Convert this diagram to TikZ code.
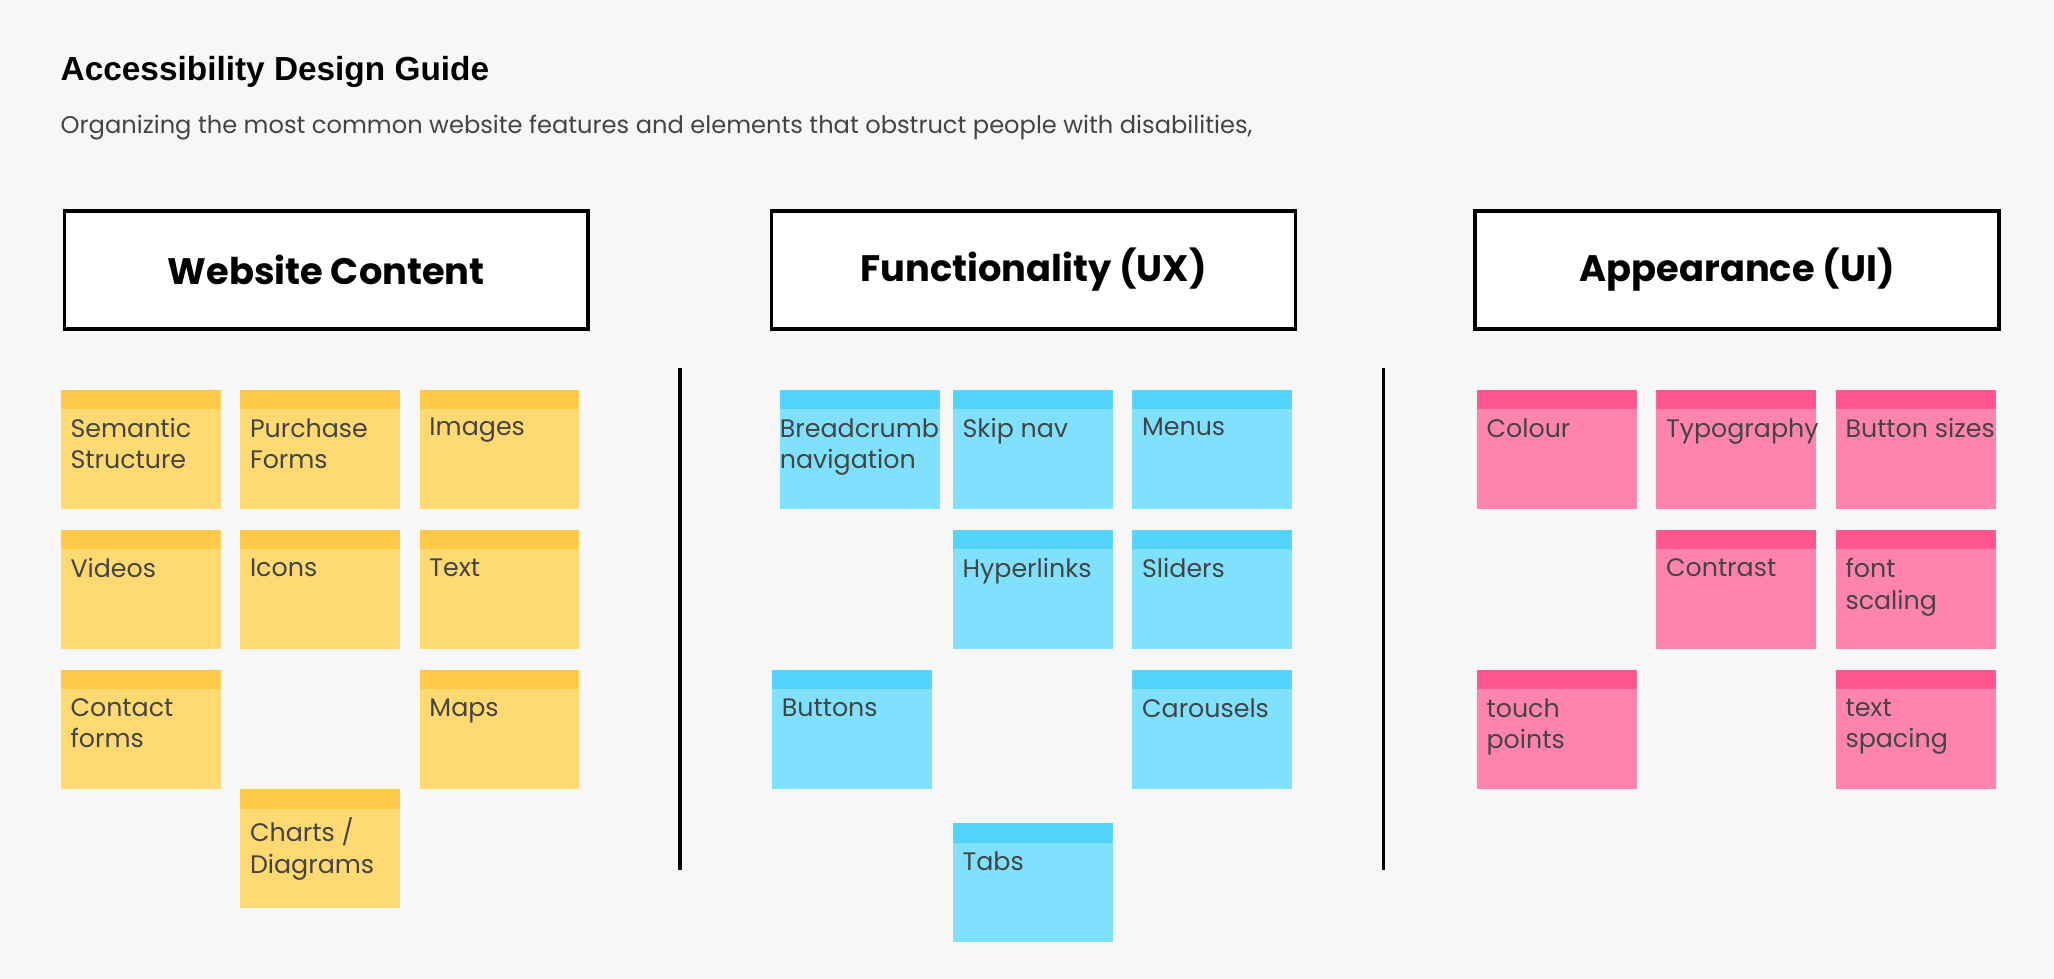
\documentclass[tikz,border=0pt]{standalone}
\usepackage{fontspec}
\setmainfont{Poppins}
\newfontfamily\titlefont{Liberation Sans}
\usetikzlibrary{positioning}
\definecolor{bgcol}{HTML}{F7F7F7}
\definecolor{ybody}{HTML}{FFD971}
\definecolor{yhead}{HTML}{FFC94A}
\definecolor{bbody}{HTML}{7FE1FD}
\definecolor{bhead}{HTML}{52D4FB}
\definecolor{pbody}{HTML}{FF84AD}
\definecolor{phead}{HTML}{FF5591}
\definecolor{notetext}{HTML}{444444}

\begin{document}
\begin{tikzpicture}[x=0.02cm,y=-0.02cm]
  \tikzset{
    sticky/.style={rectangle,anchor=north west,minimum width=2.44cm,minimum height=1.82cm,inner sep=0pt},
    yellow/.style={sticky,fill=ybody,path picture={\fill[yhead] (path picture bounding box.north west) rectangle ([yshift=-0.3cm]path picture bounding box.north east);}},
    blue/.style={sticky,fill=bbody,path picture={\fill[bhead] (path picture bounding box.north west) rectangle ([yshift=-0.3cm]path picture bounding box.north east);}},
    pink/.style={sticky,fill=pbody,path picture={\fill[phead] (path picture bounding box.north west) rectangle ([yshift=-0.3cm]path picture bounding box.north east);}},
    note/.style={anchor=north west,align=left,inner sep=0pt,text=notetext,font=\fontsize{11}{13.6}\selectfont,xshift=0.15cm,yshift=-0.44cm},
    header/.style={rectangle,draw=black,line width=1.5pt,fill=white,minimum width=8cm,minimum height=1.8cm,font=\fontsize{16}{18}\selectfont\bfseries},
    divider/.style={line width=1.5pt}
  }
  \fill[bgcol] (0,0) rectangle (1568,747);
  \useasboundingbox (0,0) rectangle (1568,747);

  % title
  \node[anchor=west,inner sep=0pt,font=\titlefont\fontsize{14.5}{16}\selectfont\bfseries] (title) at (46,55) {Accessibility Design Guide};
  \node[anchor=west,inner sep=0pt,text=notetext,font=\fontsize{10.5}{12}\selectfont] (subtitle) at (46,97) {Organizing the most common website features and elements that obstruct people with disabilities,};

  % column headers
  \node[header] (content) at (249,206) {Website Content};
  \node[header] (ux) at (789,206) {Functionality (UX)};
  \node[header] (ui) at (1326,206) {Appearance (UI)};

  % dividers
  \coordinate (d1a) at (519,281); \coordinate (d1b) at (519,664);
  \coordinate (d2a) at (1056,281); \coordinate (d2b) at (1056,664);
  \draw[divider] (d1a) -- (d1b);
  \draw[divider] (d2a) -- (d2b);

  % website content
  \node[yellow] (semantic) at (46,297) {};  \node[note] at (semantic.north west) {Semantic\\Structure};
  \node[yellow] (purchase) at (183,297) {}; \node[note] at (purchase.north west) {Purchase\\Forms};
  \node[yellow] (images) at (320,297) {};   \node[note] at (images.north west) {Images};
  \node[yellow] (videos) at (46,404) {};    \node[note] at (videos.north west) {Videos};
  \node[yellow] (icons) at (183,404) {};    \node[note] at (icons.north west) {Icons};
  \node[yellow] (text) at (320,404) {};     \node[note] at (text.north west) {Text};
  \node[yellow] (contact) at (46,511) {};   \node[note] at (contact.north west) {Contact\\forms};
  \node[yellow] (maps) at (320,511) {};     \node[note] at (maps.north west) {Maps};
  \node[yellow] (charts) at (183,602) {};   \node[note] at (charts.north west) {Charts /\\Diagrams};

  % functionality
  \node[blue] (breadcrumb) at (595,297) {}; \node[note,xshift=-0.15cm] at (breadcrumb.north west) {Breadcrumb\\navigation};
  \node[blue] (skipnav) at (727,297) {};    \node[note] at (skipnav.north west) {Skip nav};
  \node[blue] (menus) at (864,297) {};      \node[note] at (menus.north west) {Menus};
  \node[blue] (hyperlinks) at (727,404) {}; \node[note] at (hyperlinks.north west) {Hyperlinks};
  \node[blue] (sliders) at (864,404) {};    \node[note] at (sliders.north west) {Sliders};
  \node[blue] (buttons) at (589,511) {};    \node[note] at (buttons.north west) {Buttons};
  \node[blue] (carousels) at (864,511) {};  \node[note] at (carousels.north west) {Carousels};
  \node[blue] (tabs) at (727,628) {};       \node[note] at (tabs.north west) {Tabs};

  % appearance
  \node[pink] (colour) at (1127,297) {};     \node[note] at (colour.north west) {Colour};
  \node[pink] (typography) at (1264,297) {}; \node[note] at (typography.north west) {Typography};
  \node[pink] (btnsizes) at (1401,297) {};   \node[note] at (btnsizes.north west) {Button sizes};
  \node[pink] (contrast) at (1264,404) {};   \node[note] at (contrast.north west) {Contrast};
  \node[pink] (fontscale) at (1401,404) {};  \node[note] at (fontscale.north west) {font\\scaling};
  \node[pink] (touch) at (1127,511) {};      \node[note] at (touch.north west) {touch\\points};
  \node[pink] (spacing) at (1401,511) {};    \node[note] at (spacing.north west) {text\\spacing};
\end{tikzpicture}
\end{document}
